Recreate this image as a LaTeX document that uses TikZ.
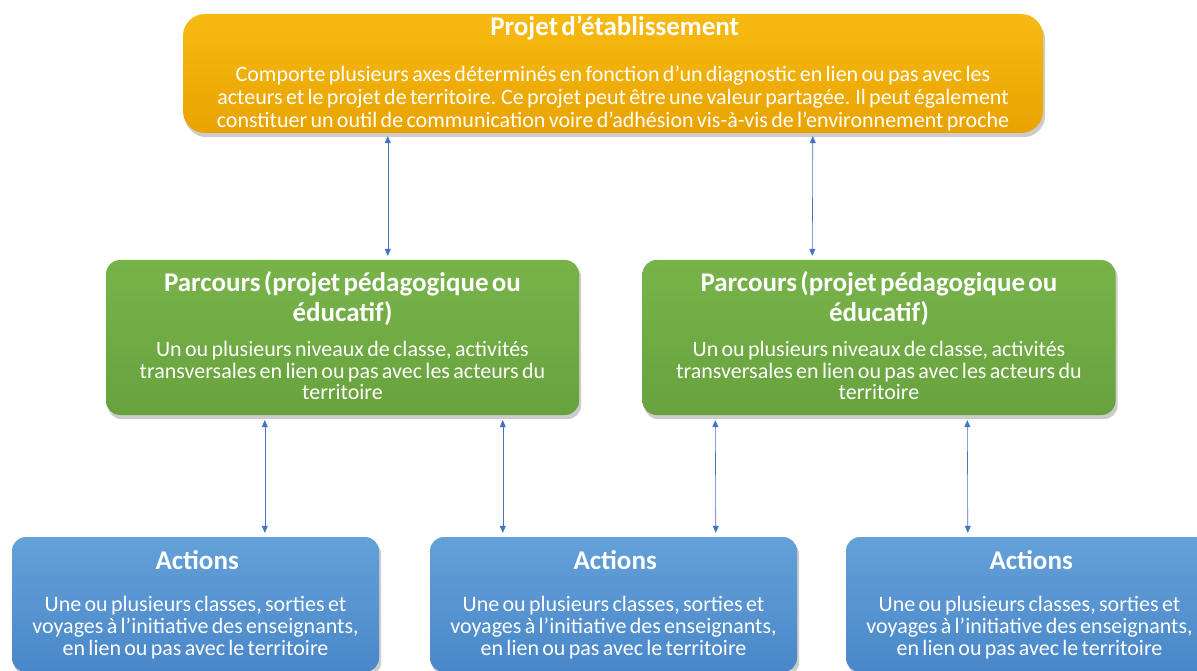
\documentclass[tikz,border=0pt]{standalone}
\usepackage{fontspec}
\setmainfont{Carlito}
\usetikzlibrary{arrows.meta,backgrounds}
\definecolor{ytop}{HTML}{F7BA12}
\definecolor{ybot}{HTML}{E9A300}
\definecolor{gtop}{HTML}{78B34A}
\definecolor{gbot}{HTML}{68A23E}
\definecolor{btop}{HTML}{64A1D9}
\definecolor{bbot}{HTML}{4A87C8}
\definecolor{arrowc}{HTML}{4472C4}
\setlength{\lineskiplimit}{-20pt}
\begin{document}
\begin{tikzpicture}[x=1pt,y=-1pt,
  box/.style={rounded corners=14pt, text=white, align=center, inner sep=0pt},
  topbox/.style={box, rounded corners=22pt, top color=ytop, bottom color=ybot,
    minimum width=860pt, minimum height=119pt, text width=856pt},
  greenbox/.style={box, top color=gtop, bottom color=gbot,
    minimum width=473pt, minimum height=155pt, text width=470pt},
  bluebox/.style={box, top color=btop, bottom color=bbot,
    minimum width=367pt, minimum height=135pt, text width=364pt},
  shadowfill/.style={fill=black, fill opacity=0.2},
  conn/.style={arrowc, line width=0.6pt,
    {Triangle[width=6pt,length=7pt]}-{Triangle[width=6pt,length=7pt]}}
]
\useasboundingbox (0,0) rectangle (1197,671);

\node[topbox] (top) at (613,73.5) {%
  \vspace*{8pt}
  {\bfseries\fontsize{27}{30}\selectfont Projet d’établissement\par}
  \vspace{15pt}
  {\fontsize{22}{23}\selectfont Comporte plusieurs axes déterminés en fonction d’un diagnostic en lien ou pas avec les\\
  acteurs et le projet de territoire. Ce projet peut être une valeur partagée. Il peut également\\
  constituer un outil de communication voire d’adhésion vis-à-vis de l’environnement proche\par}};

\node[greenbox] (g1) at (342.5,337.5) {%
  {\bfseries\fontsize{27}{30}\selectfont Parcours (projet pédagogique ou\\ éducatif)\par}
  \vspace{14pt}
  {\fontsize{22}{21.5}\selectfont Un ou plusieurs niveaux de classe, activités\\
  transversales en lien ou pas avec les acteurs du\\ territoire\par}
  \vspace*{4pt}};
\node[greenbox] (g2) at (879,337.5) {%
  {\bfseries\fontsize{27}{30}\selectfont Parcours (projet pédagogique ou\\ éducatif)\par}
  \vspace{14pt}
  {\fontsize{22}{21.5}\selectfont Un ou plusieurs niveaux de classe, activités\\
  transversales en lien ou pas avec les acteurs du\\ territoire\par}
  \vspace*{4pt}};

\node[bluebox] (b1) at (195.5,604.5) {%
  \vspace*{4pt}
  {\bfseries\fontsize{27}{30}\selectfont Actions\par}
  \vspace{16pt}
  {\fontsize{22}{22}\selectfont Une ou plusieurs classes, sorties et\\
  voyages à l’initiative des enseignants,\\ en lien ou pas avec le territoire\par}};
\node[bluebox] (b2) at (613.5,604.5) {%
  \vspace*{4pt}
  {\bfseries\fontsize{27}{30}\selectfont Actions\par}
  \vspace{16pt}
  {\fontsize{22}{22}\selectfont Une ou plusieurs classes, sorties et\\
  voyages à l’initiative des enseignants,\\ en lien ou pas avec le territoire\par}};
\node[bluebox] (b3) at (1029.5,604.5) {%
  \vspace*{4pt}
  {\bfseries\fontsize{27}{30}\selectfont Actions\par}
  \vspace{16pt}
  {\fontsize{22}{22}\selectfont Une ou plusieurs classes, sorties et\\
  voyages à l’initiative des enseignants,\\ en lien ou pas avec le territoire\par}};

\begin{scope}[on background layer]
  \fill[white] (0,0) rectangle (1197,671);
  \fill[shadowfill, rounded corners=22pt] ([shift={(2pt,-4pt)}]top.south west) rectangle ([shift={(2pt,-4pt)}]top.north east);
  \foreach \n in {g1,g2,b1,b2,b3}
    \fill[shadowfill, rounded corners=14pt] ([shift={(2pt,-4pt)}]\n.south west) rectangle ([shift={(2pt,-4pt)}]\n.north east);
\end{scope}

\draw[conn] ([xshift=205pt,yshift=-3pt]top.south west) -- ([xshift=282pt,yshift=4pt]g1.north west);
\draw[conn] ([xshift=630pt,yshift=-3pt]top.south west) -- ([xshift=170pt,yshift=4pt]g2.north west);
\draw[conn] ([xshift=159pt,yshift=-5pt]g1.south west) -- ([xshift=253pt,yshift=4pt]b1.north west);
\draw[conn] ([xshift=397pt,yshift=-5pt]g1.south west) -- ([xshift=73pt,yshift=4pt]b2.north west);
\draw[conn] ([xshift=73pt,yshift=-5pt]g2.south west) -- ([xshift=286pt,yshift=4pt]b2.north west);
\draw[conn] ([xshift=325pt,yshift=-5pt]g2.south west) -- ([xshift=122pt,yshift=4pt]b3.north west);
\end{tikzpicture}
\end{document}
